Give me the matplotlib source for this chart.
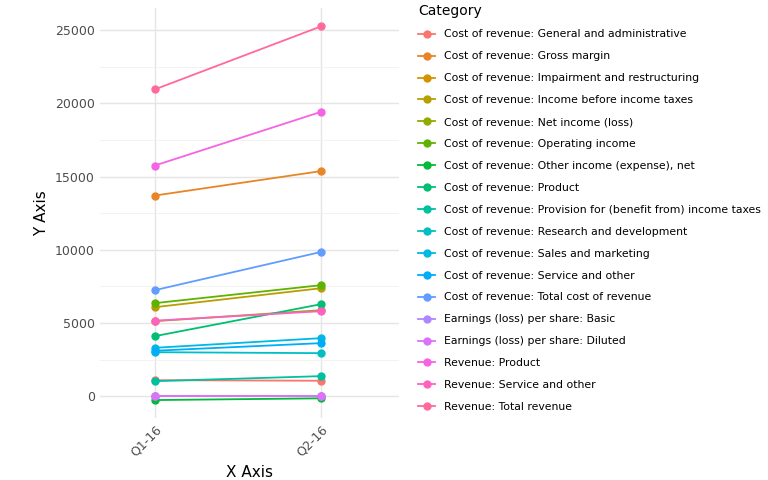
import matplotlib
matplotlib.use("Agg")
import matplotlib.pyplot as plt
import numpy as np

quarters = ["Q1-16", "Q2-16"]
categories = [
    "Cost of revenue: General and administrative",
    "Cost of revenue: Gross margin",
    "Cost of revenue: Impairment and restructuring",
    "Cost of revenue: Income before income taxes",
    "Cost of revenue: Net income (loss)",
    "Cost of revenue: Operating income",
    "Cost of revenue: Other income (expense), net",
    "Cost of revenue: Product",
    "Cost of revenue: Provision for (benefit from) income taxes",
    "Cost of revenue: Research and development",
    "Cost of revenue: Sales and marketing",
    "Cost of revenue: Service and other",
    "Cost of revenue: Total cost of revenue",
    "Earnings (loss) per share: Basic",
    "Earnings (loss) per share: Diluted",
    "Revenue: Product",
    "Revenue: Service and other",
    "Revenue: Total revenue",
]
values = [
    [1090, 1050],
    [13700, 15370],
    [0, 0],
    [6075, 7370],
    [5120, 5870],
    [6350, 7580],
    [-270, -150],
    [4095, 6280],
    [1020, 1365],
    [3000, 2935],
    [3300, 3960],
    [3100, 3620],
    [7235, 9850],
    [0.6, 0.9],
    [0.6, 0.9],
    [15750, 19420],
    [5150, 5800],
    [20950, 25260],
]

# ggplot hue palette (HCL, l=65, c=100)
def hcl_to_rgb(h, c=100, l=65):
    hr = np.radians(h)
    u, v = c * np.cos(hr), c * np.sin(hr)
    un, vn = 0.19783, 0.46832
    Y = ((l + 16) / 116) ** 3 if l > 8 else l / 903.3
    up, vp = u / (13 * l) + un, v / (13 * l) + vn
    X = Y * 9 * up / (4 * vp)
    Z = Y * (12 - 3 * up - 20 * vp) / (4 * vp)
    m = np.array([[3.2406, -1.5372, -0.4986],
                  [-0.9689, 1.8758, 0.0415],
                  [0.0557, -0.2040, 1.0570]])
    rgb = m @ np.array([X, Y, Z])
    rgb = np.where(rgb <= 0.0031308, 12.92 * rgb, 1.055 * np.clip(rgb, 0, None) ** (1 / 2.4) - 0.055)
    return tuple(np.clip(rgb, 0, 1))

n = len(categories)
colors = [hcl_to_rgb(15 + 360 * i / n) for i in range(n)]

fig = plt.figure(figsize=(7.68, 4.8), dpi=100)
ax = fig.add_axes([0.13, 0.129, 0.39, 0.854])
x = list(range(len(quarters)))
for cat, vals, c in zip(categories, values, colors):
    ax.plot(x, vals, color=c, marker="o", markersize=5, linewidth=1.3, label=cat)

ax.set_xlim(-0.33, 1.47)
ax.set_ylim(-1500, 26500)
ax.set_xticks(x)
ax.set_xticklabels(quarters, rotation=45, ha="right", rotation_mode="anchor", color="#4d4d4d")
ax.set_yticks([0, 5000, 10000, 15000, 20000, 25000])
ax.set_yticks([2500, 7500, 12500, 17500, 22500], minor=True)
ax.tick_params(axis="both", length=0, labelsize=9, colors="#4d4d4d")
ax.tick_params(which="minor", length=0)
ax.grid(True, which="major", color="#e5e5e5", linewidth=1)
ax.grid(True, which="minor", color="#f0f0f0", linewidth=0.6)
for s in ax.spines.values():
    s.set_visible(False)
ax.set_xlabel("X Axis", fontsize=11)
ax.set_ylabel("Y Axis", fontsize=11)

leg = ax.legend(loc="upper left", bbox_to_anchor=(1.03, 1.035), frameon=False,
                title="Category", fontsize=7.8, title_fontsize=10,
                labelspacing=1.1, handlelength=1.6, alignment="left")
fig.savefig("out.png", dpi=100)
